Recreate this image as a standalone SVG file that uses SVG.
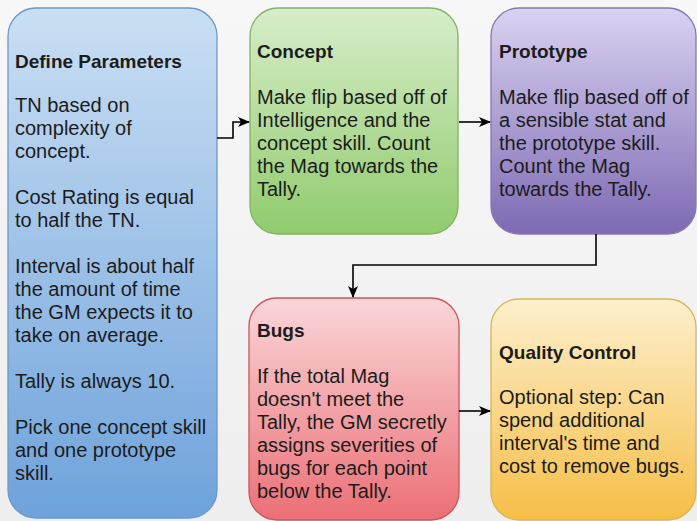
<svg xmlns="http://www.w3.org/2000/svg" width="697" height="521" viewBox="0 0 697 521">
<defs>
<linearGradient id="bg" x1="0" y1="0" x2="0" y2="1"><stop offset="0" stop-color="#f7f7f7"/><stop offset="1" stop-color="#eeeeee"/></linearGradient>
<linearGradient id="gBlue" x1="0" y1="0" x2="0" y2="1"><stop offset="0" stop-color="#cadff3"/><stop offset="1" stop-color="#6ea2db"/></linearGradient>
<linearGradient id="gGreen" x1="0" y1="0" x2="0" y2="1"><stop offset="0" stop-color="#d7edc9"/><stop offset="1" stop-color="#90cb6d"/></linearGradient>
<linearGradient id="gPurple" x1="0" y1="0" x2="0" y2="1"><stop offset="0" stop-color="#dad2f1"/><stop offset="1" stop-color="#7d6ab3"/></linearGradient>
<linearGradient id="gRed" x1="0" y1="0" x2="0" y2="1"><stop offset="0" stop-color="#fad6d8"/><stop offset="1" stop-color="#eb6f76"/></linearGradient>
<linearGradient id="gYellow" x1="0" y1="0" x2="0" y2="1"><stop offset="0" stop-color="#fdefcc"/><stop offset="1" stop-color="#f6be46"/></linearGradient>
<marker id="arr" viewBox="0 0 12 10" refX="11" refY="5" markerWidth="12" markerHeight="10" markerUnits="userSpaceOnUse" orient="auto">
<path d="M0,0 L12,5 L0,10 L3,5 Z" fill="#000"/>
</marker>
</defs>
<style>
text{font-family:"Liberation Sans",Arial,Helvetica,sans-serif;font-size:20px;fill:#1c1c1c}
.t{font-weight:bold;font-size:19px}
.box{stroke-width:1.3}
.con{fill:none;stroke:#000;stroke-width:1.6;marker-end:url(#arr)}
</style>
<rect width="697" height="521" fill="url(#bg)"/>
<g id="define">
<rect class="box" x="8" y="8" width="209" height="510" rx="28" fill="url(#gBlue)" stroke="#6c98cc"/>
<text x="15" y="68" class="t">Define Parameters</text>
<text x="15" y="112">TN based on</text>
<text x="15" y="135">complexity of</text>
<text x="15" y="158">concept.</text>
<text x="15" y="204">Cost Rating is equal</text>
<text x="15" y="227">to half the TN.</text>
<text x="15" y="273">Interval is about half</text>
<text x="15" y="296">the amount of time</text>
<text x="15" y="319">the GM expects it to</text>
<text x="15" y="342">take on average.</text>
<text x="15" y="388">Tally is always 10.</text>
<text x="15" y="434">Pick one concept skill</text>
<text x="15" y="457">and one prototype</text>
<text x="15" y="480">skill.</text>
</g>
<g id="concept">
<rect class="box" x="250" y="8" width="208" height="226" rx="28" fill="url(#gGreen)" stroke="#82b366"/>
<text x="257" y="58" class="t">Concept</text>
<text x="257" y="104">Make flip based off of</text>
<text x="257" y="127">Intelligence and the</text>
<text x="257" y="150">concept skill. Count</text>
<text x="257" y="173">the Mag towards the</text>
<text x="257" y="196">Tally.</text>
</g>
<g id="prototype">
<rect class="box" x="491" y="8" width="205" height="226" rx="28" fill="url(#gPurple)" stroke="#8a74b8"/>
<text x="499" y="58" class="t">Prototype</text>
<text x="499" y="104">Make flip based off of</text>
<text x="499" y="127">a sensible stat and</text>
<text x="499" y="150">the prototype skill.</text>
<text x="499" y="173">Count the Mag</text>
<text x="499" y="196">towards the Tally.</text>
</g>
<g id="bugs">
<rect class="box" x="249" y="298" width="210" height="222" rx="28" fill="url(#gRed)" stroke="#c9555b"/>
<text x="257" y="337" class="t">Bugs</text>
<text x="257" y="383">If the total Mag</text>
<text x="257" y="406">doesn't meet the</text>
<text x="257" y="429">Tally, the GM secretly</text>
<text x="257" y="452">assigns severities of</text>
<text x="257" y="475">bugs for each point</text>
<text x="257" y="498">below the Tally.</text>
</g>
<g id="quality">
<rect class="box" x="491" y="299" width="205" height="221" rx="28" fill="url(#gYellow)" stroke="#d6b656"/>
<text x="499" y="359" class="t">Quality Control</text>
<text x="499" y="404">Optional step: Can</text>
<text x="499" y="427">spend additional</text>
<text x="499" y="450">interval's time and</text>
<text x="499" y="473">cost to remove bugs.</text>
</g>
<g id="connectors">
<path class="con" d="M217,138 H233 V122 H249"/>
<path class="con" d="M459,122 H490"/>
<path class="con" d="M596,234 V265 H353 V297"/>
<path class="con" d="M459,411 H490"/>
</g>
</svg>
